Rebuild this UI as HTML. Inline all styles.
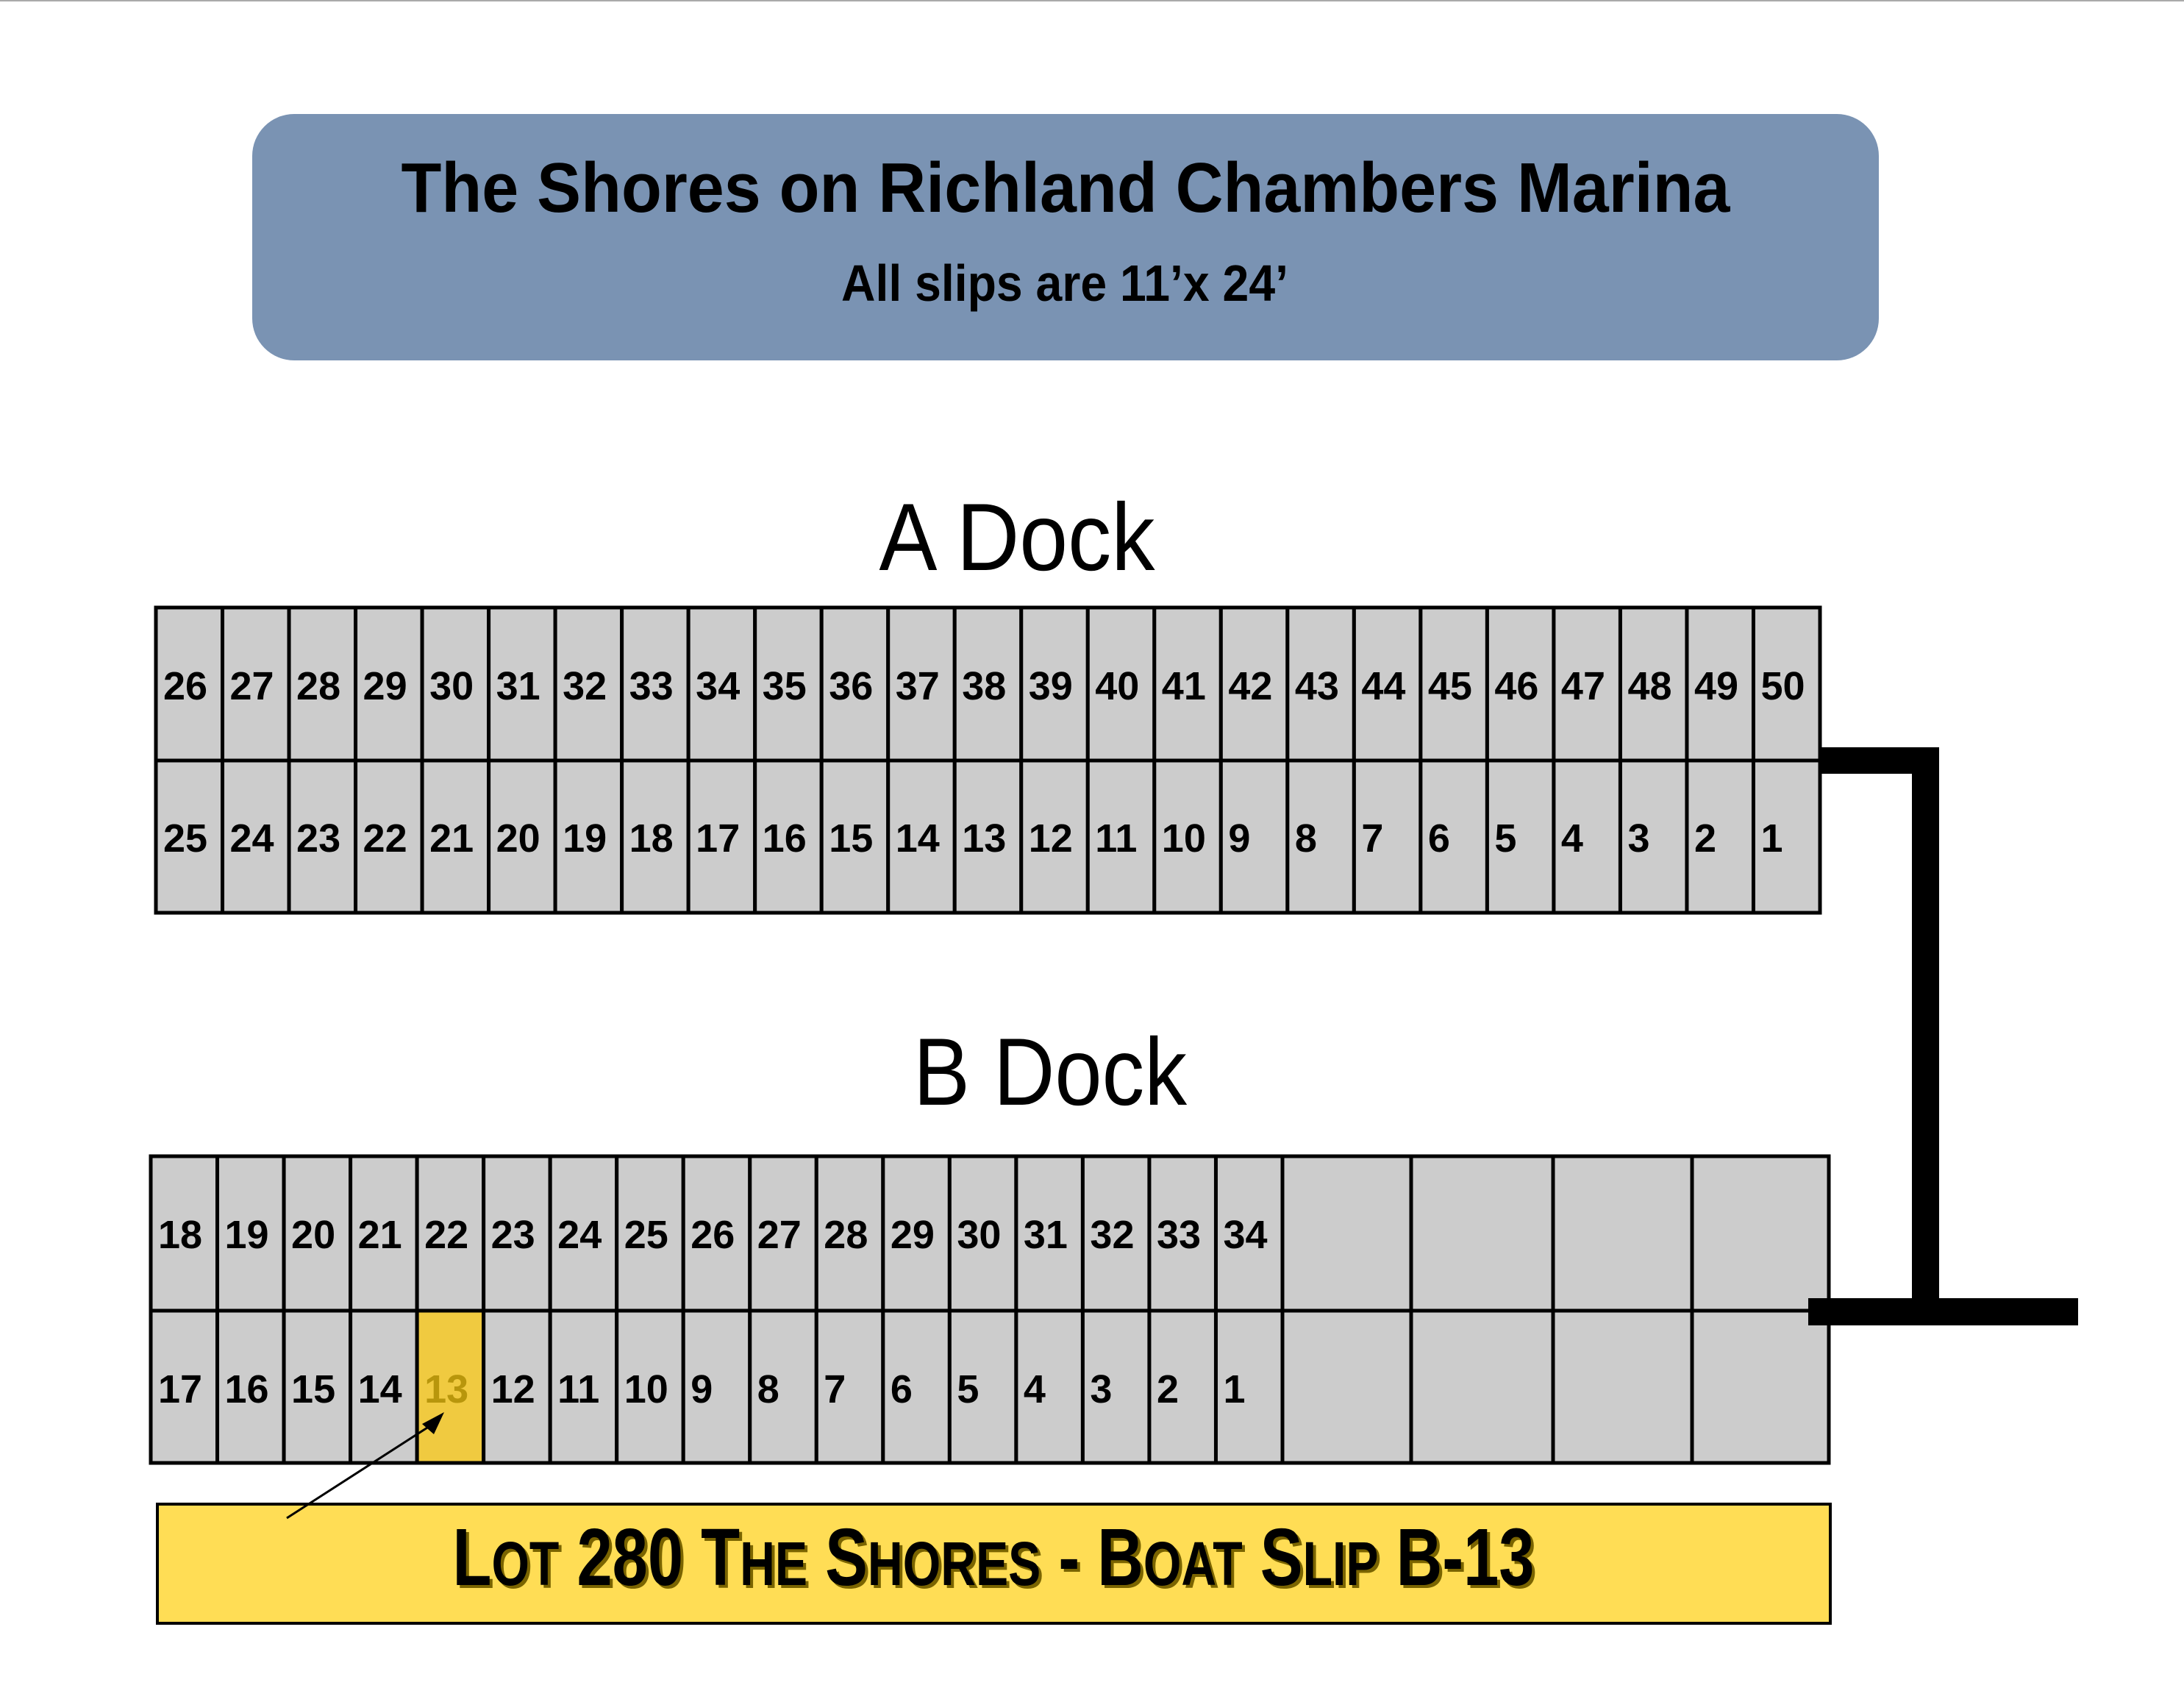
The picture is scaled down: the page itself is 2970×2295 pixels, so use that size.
<!DOCTYPE html>
<html><head><meta charset="utf-8"><style>
html,body{margin:0;padding:0;background:#fff;}
svg{display:block;}
</style></head><body>
<svg width="2970" height="2295" viewBox="0 0 2970 2295" xmlns="http://www.w3.org/2000/svg" font-family="'Liberation Sans', sans-serif">
<rect x="0" y="0" width="2970" height="2295" fill="#fff"/>
<line x1="0" y1="1" x2="2970" y2="1" stroke="#aaa" stroke-width="2"/>
<!-- header -->
<rect x="343" y="155" width="2212" height="335" rx="57" fill="#7a93b3"/>
<text x="1449" y="288" font-size="96" font-weight="bold" text-anchor="middle" textLength="1807" lengthAdjust="spacingAndGlyphs" fill="#000">The Shores on Richland Chambers Marina</text>
<text x="1448" y="409" font-size="70" font-weight="bold" text-anchor="middle" textLength="608" lengthAdjust="spacingAndGlyphs" fill="#000">All slips are 11’x 24’</text>
<!-- dock titles -->
<text x="1383" y="775" font-size="130" text-anchor="middle" textLength="375" lengthAdjust="spacingAndGlyphs" fill="#000">A Dock</text>
<text x="1428" y="1502" font-size="130" text-anchor="middle" textLength="372" lengthAdjust="spacingAndGlyphs" fill="#000">B Dock</text>
<g id="cells" stroke="#000" stroke-width="5" fill="#cccccc"></g>
<g id="labels" font-size="54" font-weight="bold" fill="#000"></g>
<!-- connector -->
<g fill="#000">
<rect x="2476" y="1016" width="161" height="36"/>
<rect x="2600" y="1016" width="37" height="786"/>
<rect x="2459" y="1765" width="367" height="37"/>
</g>
<!-- yellow label -->
<rect x="214" y="2045" width="2275" height="162" fill="#ffdd55" stroke="#000" stroke-width="4"/>
<g font-size="110" font-weight="bold">
<text x="1355" y="2159" text-anchor="middle" textLength="1471" lengthAdjust="spacingAndGlyphs" fill="#7a6400">L<tspan font-size="84">OT</tspan> 280 T<tspan font-size="84">HE</tspan> S<tspan font-size="84">HORES</tspan> - B<tspan font-size="84">OAT</tspan> S<tspan font-size="84">LIP</tspan> B-13</text>
<text x="1351" y="2155" text-anchor="middle" textLength="1471" lengthAdjust="spacingAndGlyphs" fill="#000">L<tspan font-size="84">OT</tspan> 280 T<tspan font-size="84">HE</tspan> S<tspan font-size="84">HORES</tspan> - B<tspan font-size="84">OAT</tspan> S<tspan font-size="84">LIP</tspan> B-13</text>
</g>
<!-- arrow -->
<line x1="390" y1="2064" x2="592" y2="1934" stroke="#000" stroke-width="3"/>
<polygon points="604,1920 574,1936 590,1950" fill="#000"/>
</svg>
<script>
var NS="http://www.w3.org/2000/svg";
var cells=document.getElementById("cells"),labels=document.getElementById("labels");
function rect(x,y,w,h,f){var r=document.createElementNS(NS,"rect");r.setAttribute("x",x);r.setAttribute("y",y);r.setAttribute("width",w);r.setAttribute("height",h);if(f)r.setAttribute("fill",f);cells.appendChild(r);}
function txt(x,y,s,c){var t=document.createElementNS(NS,"text");t.setAttribute("x",x);t.setAttribute("y",y);t.textContent=s;if(c)t.setAttribute("fill",c);labels.appendChild(t);}
// A dock
var ax=212,aw=(2475-212)/25;
for(var i=0;i<25;i++){
 var x=ax+i*aw;
 rect(x,826,aw,208);rect(x,1034,aw,207);
 txt(x+10,951,String(26+i));txt(x+10,1158,String(25-i));
}
// B dock
var bx=205,bw=(1744-205)/17;
for(var i=0;i<17;i++){
 var x=bx+i*bw;
 var hl=(i==4);
 rect(x,1572,bw,210);rect(x,1782,bw,207,hl?"#f0ca40":null);
 txt(x+10,1697,String(18+i));txt(x+10,1907,String(17-i),hl?"#b8960c":null);
}
var wx=[1744,1919,2112,2301,2487];
for(var i=0;i<4;i++){rect(wx[i],1572,wx[i+1]-wx[i],210);rect(wx[i],1782,wx[i+1]-wx[i],207);}
</script>
</body></html>
